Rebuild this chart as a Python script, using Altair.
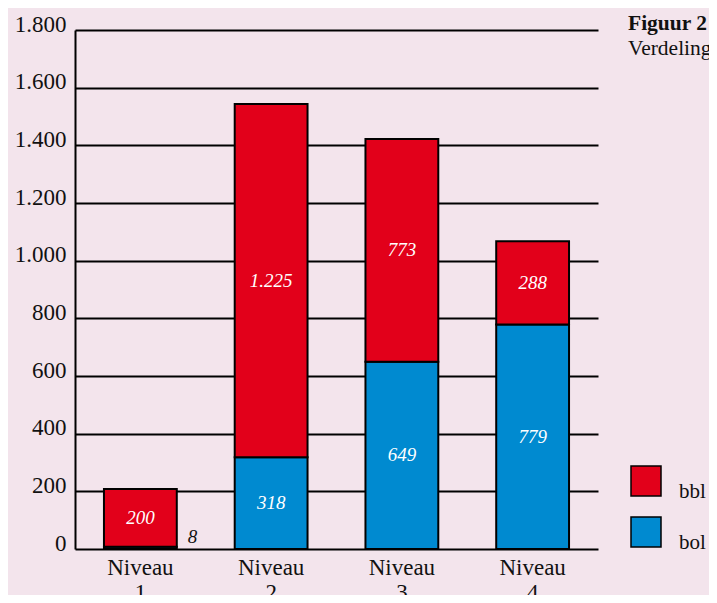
import altair as alt
import pandas as pd

niveaus = ["Niveau 1", "Niveau 2", "Niveau 3", "Niveau 4"]
bol = [8, 318, 649, 779]
bbl = [200, 1225, 773, 288]
series = ["bbl", "bol"]
colors = ["#e2001a", "#008ad0"]
y_ticks = [0, 200, 400, 600, 800, 1000, 1200, 1400, 1600, 1800]
title_main = "Figuur 2"
title_sub = "Verdeling naar niveau"

rows = []
for n, b, r in zip(niveaus, bol, bbl):
    rows.append({"niveau": n, "type": "bol", "value": b, "start": 0, "end": b})
    rows.append({"niveau": n, "type": "bbl", "value": r, "start": b, "end": b + r})
df = pd.DataFrame(rows)
df["mid"] = (df["start"] + df["end"]) / 2
df["label"] = df["value"].map(lambda v: f"{v:,}".replace(",", "."))

SERIF = "Liberation Serif"

x = alt.X("niveau:N", sort=niveaus, title=None,
          scale=alt.Scale(paddingInner=0.443, paddingOuter=0.2215),
          axis=alt.Axis(labelExpr="split(datum.label, ' ')", labelAngle=0,
                        labelFont=SERIF, labelFontSize=23, labelColor="#111",
                        labelLineHeight=25, labelPadding=7, ticks=False,
                        domain=False, grid=False, labelBaseline="top"))
yscale = alt.Scale(domain=[0, 1800], nice=False)

base = alt.Chart(df)

bars = base.mark_bar(stroke="black", strokeWidth=2).encode(
    x=x,
    y=alt.Y("start:Q", scale=yscale, title=None,
            axis=alt.Axis(values=y_ticks, grid=True, gridColor="black", gridWidth=2,
                          gridOpacity=1, domain=True, domainColor="black", domainWidth=2,
                          ticks=False, labelFont=SERIF, labelFontSize=23,
                          labelColor="#111", labelPadding=9,
                          labelBaseline="alphabetic", labelOffset=1,
                          labelExpr="replace(format(datum.value, ','), ',', '.')")),
    y2="end:Q",
    color=alt.Color("type:N", scale=alt.Scale(domain=series, range=colors),
                    legend=alt.Legend(title=None, orient="none", legendX=555, legendY=435,
                                      symbolType="square", symbolSize=900,
                                      symbolStrokeColor="black", symbolStrokeWidth=1.5,
                                      symbolOpacity=1, labelFont=SERIF, labelFontSize=21,
                                      labelColor="#111", labelOffset=17, rowPadding=12,
                                      labelBaseline="top", padding=0)),
)

inside = base.transform_filter("datum.value >= 50").mark_text(
    color="white", font=SERIF, fontStyle="italic", fontSize=19, baseline="middle"
).encode(x=alt.X("niveau:N", sort=niveaus), y=alt.Y("mid:Q", scale=yscale), text="label:N")

outside = base.transform_filter("datum.value < 50").mark_text(
    color="#111", font=SERIF, fontStyle="italic", fontSize=19, baseline="middle",
    dx=52, dy=-12
).encode(x=alt.X("niveau:N", sort=niveaus), y=alt.Y("start:Q", scale=yscale), text="label:N")

tdf = pd.DataFrame({"t": [title_main], "s": [title_sub]})
title1 = alt.Chart(tdf).mark_text(font=SERIF, fontWeight="bold", fontSize=21.5, color="#111",
                                   align="left", baseline="alphabetic").encode(
    x=alt.value(553), y=alt.value(0), text="t:N")
title2 = alt.Chart(tdf).mark_text(font=SERIF, fontSize=21.5, color="#111",
                                   align="left", baseline="alphabetic").encode(
    x=alt.value(553), y=alt.value(25), text="s:N")

chart = alt.layer(bars, inside, outside, title1, title2).properties(
    width=523, height=519,
    background="#f3e4ec",
    autosize=alt.AutoSizeParams(type="none"),
    padding={"left": 67, "top": 22, "right": 111, "bottom": 46},
).configure_view(stroke=None)

chart.save("out.html", embed_options={"renderer": "svg", "actions": False})
